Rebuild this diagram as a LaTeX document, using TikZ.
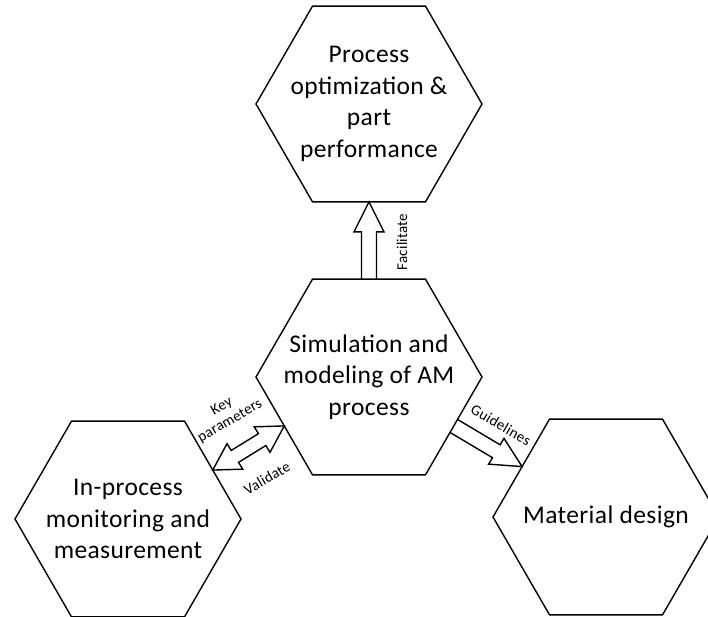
\documentclass[tikz,border=0pt]{standalone}
\usepackage{fontspec}
\setmainfont[LetterSpace=1.5]{Carlito}
\usetikzlibrary{shapes.geometric,calc}
\tikzset{
  hexa/.style={regular polygon, regular polygon sides=6, minimum size=226pt,
    draw, line width=1.4pt, inner sep=0pt, outer sep=0pt},
  hextext/.style={font=\fontsize{25.5}{31.5}\selectfont, align=center, inner sep=0pt},
  lbl/.style={font=\fontsize{15}{16.5}\selectfont, align=center, inner sep=1pt},
  barrow/.style={draw, line width=1.4pt, line join=miter},
}
\newcommand\singleblkarrow[2]{%
  \path (#1) coordinate (ba-s) (#2) coordinate (ba-e);
  \path ($(ba-e)!30pt!(ba-s)$) coordinate (ba-h);
  \draw[barrow] ($(ba-s)!7.5pt!90:(ba-e)$) -- ($(ba-h)!7.5pt!90:(ba-e)$)
    -- ($(ba-h)!15pt!90:(ba-e)$) -- (ba-e) -- ($(ba-h)!15pt!-90:(ba-e)$)
    -- ($(ba-h)!7.5pt!-90:(ba-e)$) -- ($(ba-s)!7.5pt!-90:(ba-e)$);
}
\newcommand\doubleblkarrow[2]{%
  \path (#1) coordinate (da-s) (#2) coordinate (da-e);
  \path ($(da-s)!26pt!(da-e)$) coordinate (da-h1) ($(da-e)!26pt!(da-s)$) coordinate (da-h2);
  \draw[barrow] (da-s) -- ($(da-h1)!15pt!90:(da-e)$) -- ($(da-h1)!7pt!90:(da-e)$)
    -- ($(da-h2)!7pt!-90:(da-s)$) -- ($(da-h2)!15pt!-90:(da-s)$) -- (da-e)
    -- ($(da-h2)!15pt!90:(da-s)$) -- ($(da-h2)!7pt!90:(da-s)$)
    -- ($(da-h1)!7pt!-90:(da-e)$) -- ($(da-h1)!15pt!-90:(da-e)$) -- cycle;
}
\begin{document}
\begin{tikzpicture}[x=1pt, y=-1pt]
\useasboundingbox (0,0) rectangle (708,617);
\node[hexa, label={[hextext]center:Process\\optimization \&\\part\\performance}] (top) at (369,104) {};
\node[hexa, label={[hextext]center:Simulation and\\modeling of AM\\process}] (mid) at (369,377) {};
\node[hexa, label={[hextext]center:In-process\\monitoring and\\measurement}] (left) at (128,519) {};
\node[hexa, label={[hextext]center:Material design}] (right) at (606,517) {};
\singleblkarrow{mid.90}{top.270}
\doubleblkarrow{left.30.5}{mid.210.5}
\singleblkarrow{mid.-30.6}{right.149.4}
\node[lbl, rotate=90] (lfac) at (402,242) {Facilitate};
\node[lbl, rotate=30] (lkey) at (226,414) {Key\\parameters};
\node[lbl, rotate=30] (lval) at (267,478) {Validate};
\node[lbl, rotate=-30] (lgui) at (501,425) {Guidelines};
\end{tikzpicture}
\end{document}
